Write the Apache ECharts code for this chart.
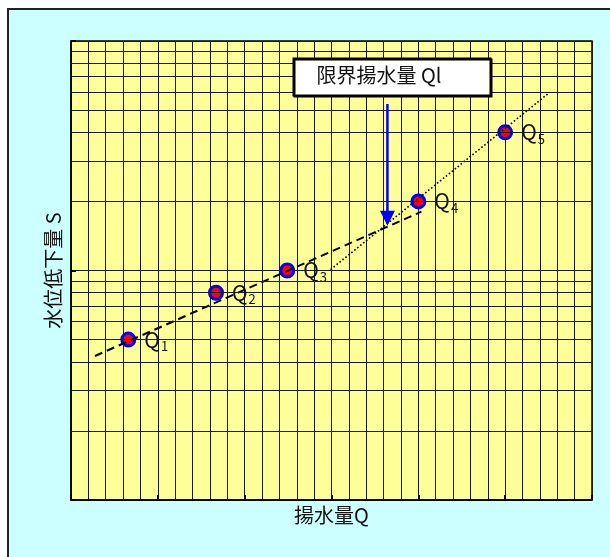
<!DOCTYPE html>
<html>
<head>
<meta charset="utf-8">
<script src="https://cdn.jsdelivr.net/npm/echarts@6/dist/echarts.min.js"></script>
<style>html,body{margin:0;padding:0;background:#fff;}#c{width:610px;height:557px;}</style>
</head>
<body>
<div id="c"></div>
<script>
// Data
const pointNames = ['1', '2', '3', '4', '5'];
const pumpQ = [3.3, 8.35, 12.45, 20.0, 25.0];          // 揚水量Q
const drawdownS = [5, 8, 10, 20, 40];                   // 水位低下量 S
const dashedLineX = [1.38, 20.18];
const dashedLineS = [4.24, 18.05];
const dottedLineX = [14.95, 27.55];
const dottedLineS = [10.1, 59.6];
const arrowX = [18.22, 18.22];
const arrowS = [53.2, 16.9];
const arrowHeadX = [18.22];
const arrowHeadS = [16.9];
const yMinorLines = [2, 3, 4, 5, 6, 7, 8, 9, 20, 30, 40, 50, 60, 70, 80, 90];
const xRange = [0, 30];
const yRange = [1, 100];
const calloutText = '限界揚水量 Ql';
const xTitle = '揚水量Q';
const yTitle = '水位低下量 S';

const FONT = '"Noto Sans CJK JP", "Noto Sans", sans-serif';
const chart = echarts.init(document.getElementById('c'), null, { renderer: 'canvas' });

const zip = (xs, ys) => xs.map((x, i) => [x, ys[i]]);

chart.setOption({
  animation: false,
  backgroundColor: '#ffffff',
  textStyle: { fontFamily: FONT },
  graphic: {
    elements: [
      {
        type: 'rect', z: -10, silent: true,
        shape: { x: 8, y: 9, width: 640, height: 600 },
        style: { fill: '#CCFFFF', stroke: '#222', lineWidth: 2 }
      },
      {
        type: 'rect', z: 50, silent: true,
        shape: { x: 293.5, y: 58.5, width: 197, height: 37 },
        style: { fill: '#ffffff', stroke: '#000', lineWidth: 2, shadowColor: '#000', shadowOffsetX: 1, shadowOffsetY: 1, shadowBlur: 0 }
      },
      {
        type: 'text', z: 51, silent: true,
        x: 379, y: 75,
        style: { text: calloutText, fontSize: 20, fontFamily: FONT, fill: '#111', align: 'center', verticalAlign: 'middle' }
      }
    ]
  },
  grid: {
    left: 71, top: 41, right: 18, bottom: 57,
    outerBoundsMode: 'none',
    show: true, backgroundColor: '#FFFF99', borderColor: '#000', borderWidth: 1.5
  },
  xAxis: {
    type: 'value', min: xRange[0], max: xRange[1], interval: 5,
    name: xTitle, nameLocation: 'middle', nameGap: 5,
    nameTextStyle: { fontSize: 20, color: '#111', fontFamily: FONT, verticalAlign: 'top' },
    axisLine: { show: true, lineStyle: { color: '#000', width: 1.5 } },
    axisTick: { show: true, inside: true, length: 5, lineStyle: { color: '#000', width: 2 } },
    axisLabel: { show: false },
    splitLine: { show: true, lineStyle: { color: '#1a1a1a', width: 1 } },
    minorTick: { show: false, splitNumber: 5 },
    minorSplitLine: { show: true, lineStyle: { color: '#1a1a1a', width: 1 } }
  },
  yAxis: {
    type: 'log', logBase: 10, min: yRange[0], max: yRange[1],
    name: yTitle, nameLocation: 'middle', nameGap: 8, nameRotate: 90,
    nameTextStyle: { fontSize: 20, color: '#111', fontFamily: FONT },
    axisLine: { show: true, lineStyle: { color: '#000', width: 1.5 } },
    axisTick: { show: true, inside: true, length: 5, lineStyle: { color: '#000', width: 2 } },
    axisLabel: { show: false },
    splitLine: { show: true, lineStyle: { color: '#1a1a1a', width: 1 } }
  },
  series: [
    {
      type: 'line', data: [], z: 1, silent: true,
      markLine: {
        silent: true, animation: false, symbol: ['none', 'none'],
        label: { show: false },
        lineStyle: { color: '#1a1a1a', width: 1, type: 'solid' },
        emphasis: { disabled: true },
        data: yMinorLines.map(v => ({ yAxis: v }))
      }
    },
    {
      type: 'scatter', z: 3,
      data: zip(pumpQ, drawdownS),
      symbol: 'circle', symbolSize: 13,
      itemStyle: { color: '#FF0000', borderColor: '#0000FF', borderWidth: 3, opacity: 1 },
      label: {
        show: true, position: 'right', distance: 8,
        formatter: p => '{q|Q}{s|' + pointNames[p.dataIndex] + '}',
        rich: {
          q: { fontSize: 21, color: '#111', fontFamily: FONT },
          s: { fontSize: 13, color: '#111', fontFamily: FONT, padding: [13, 0, 0, 1] }
        }
      }
    },
    {
      type: 'line', z: 4, silent: true,
      data: zip(dashedLineX, dashedLineS),
      symbol: 'none',
      lineStyle: { color: '#000', width: 2, type: [8, 5] }
    },
    {
      type: 'line', z: 4, silent: true,
      data: zip(dottedLineX, dottedLineS),
      symbol: 'none',
      lineStyle: { color: '#000', width: 1.6, type: [1.6, 2.2] }
    },
    {
      type: 'line', z: 5, silent: true,
      data: zip(arrowX, arrowS),
      symbol: 'none',
      lineStyle: { color: '#0000FF', width: 2.5 }
    },
    {
      type: 'scatter', z: 5, silent: true,
      data: zip(arrowHeadX, arrowHeadS),
      symbol: 'triangle', symbolRotate: 180, symbolSize: [15, 15],
      itemStyle: { color: '#0000FF', opacity: 1 }
    }
  ]
});
</script>
</body>
</html>
